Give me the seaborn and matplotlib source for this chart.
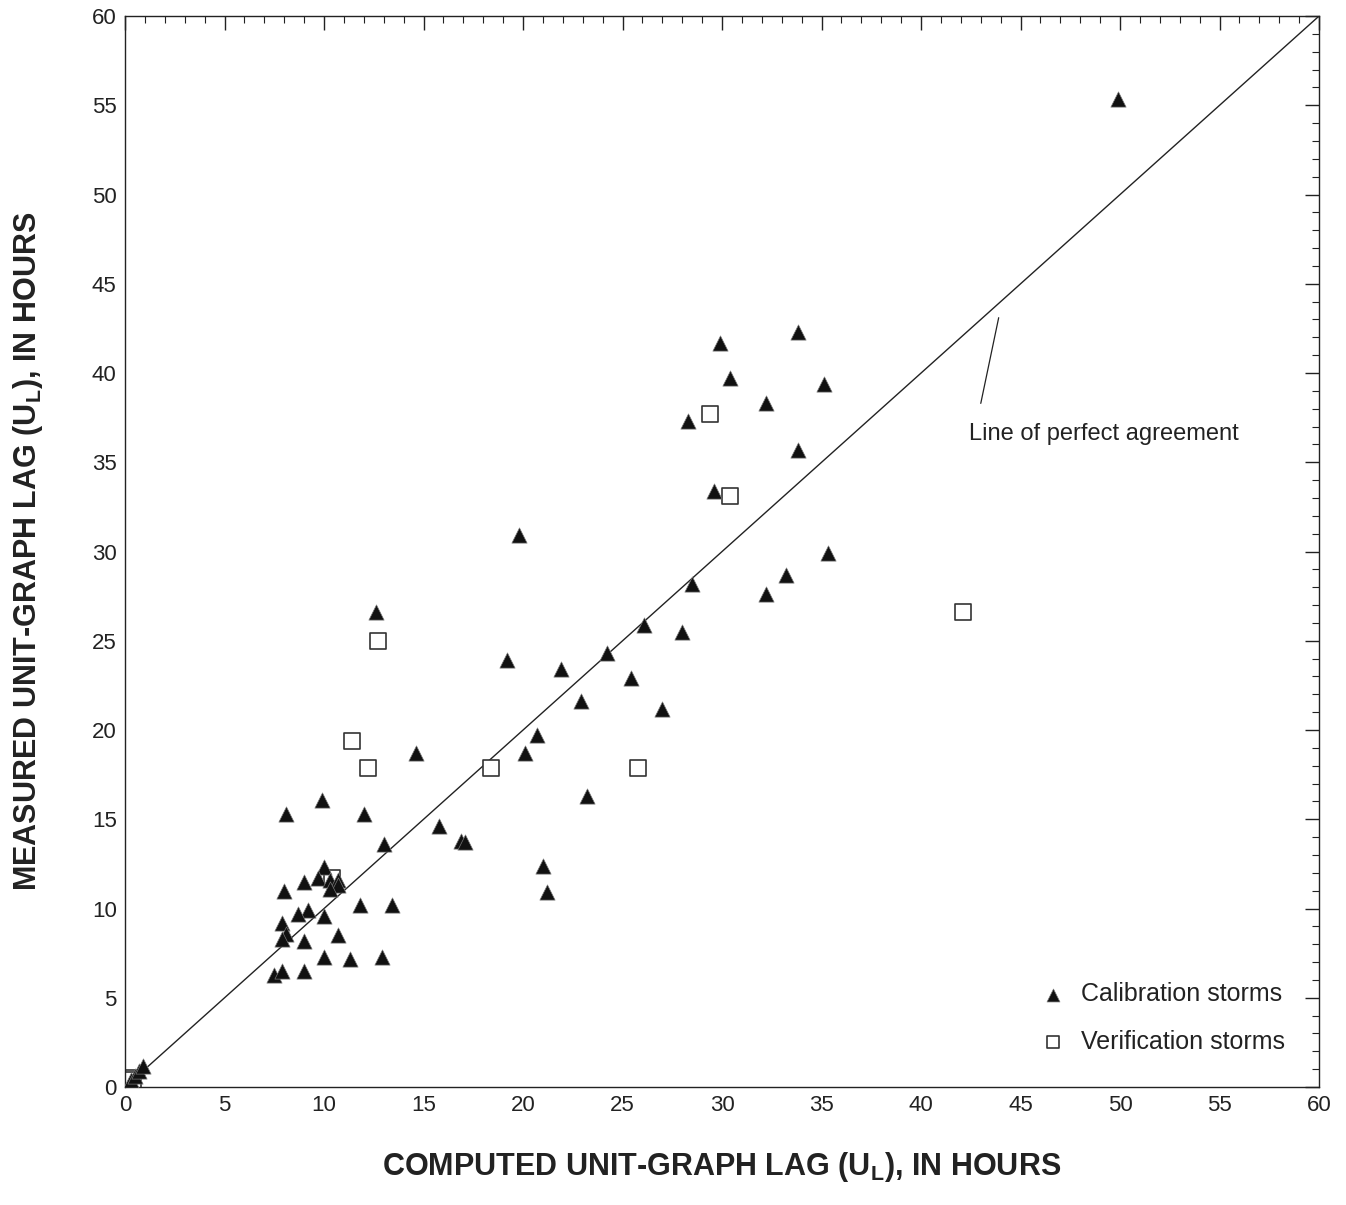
import numpy as np
import pandas as pd
import matplotlib
matplotlib.use("Agg")
import matplotlib.pyplot as plt
from matplotlib.ticker import MultipleLocator
import seaborn as sns

# ---------------------------------------------------------------
# Donnees (heures)
# ---------------------------------------------------------------
calib_x = [49.9, 33.8, 29.9, 30.4, 35.1, 32.2, 28.3, 33.8, 29.6, 35.3,
           19.8, 33.2, 28.5, 32.2, 12.6, 26.1, 28.0, 24.2, 19.2, 21.9,
           25.4, 22.9, 27.0, 20.7, 20.1, 14.6, 23.2, 15.8, 16.9, 17.1,
           21.0, 21.2,
           9.9, 8.1, 12.0, 13.0, 10.0, 9.7, 10.3, 10.7, 10.7, 9.0,
           10.3, 8.0, 11.8, 13.4, 9.2, 8.7, 10.0, 7.9, 10.7, 8.1,
           7.9, 9.0, 10.0, 11.3, 12.9, 7.5, 7.9, 9.0,
           0.3, 0.5, 0.7, 0.9]
calib_y = [55.35, 42.3, 41.7, 39.7, 39.4, 38.3, 37.3, 35.7, 33.4, 29.9,
           30.9, 28.7, 28.2, 27.6, 26.6, 25.9, 25.5, 24.3, 23.9, 23.4,
           22.9, 21.6, 21.2, 19.7, 18.7, 18.7, 16.3, 14.6, 13.8, 13.7,
           12.4, 10.9,
           16.1, 15.3, 15.3, 13.6, 12.3, 11.7, 11.6, 11.6, 11.3, 11.5,
           11.1, 11.0, 10.2, 10.2, 9.9, 9.7, 9.6, 9.2, 8.5, 8.6,
           8.3, 8.2, 7.3, 7.2, 7.3, 6.3, 6.5, 6.5,
           0.4, 0.6, 0.9, 1.2]

verif_x = [29.4, 30.4, 42.1, 12.7, 11.4, 12.2, 18.4, 25.8, 10.4, 0.2, 0.4]
verif_y = [37.7, 33.1, 26.6, 25.0, 19.4, 17.9, 17.9, 17.9, 11.7, 0.5, 0.4]

axis_max = 60
line_label = "Line of perfect agreement"

df_cal = pd.DataFrame({"x": calib_x, "y": calib_y})
df_ver = pd.DataFrame({"x": verif_x, "y": verif_y})

# ---------------------------------------------------------------
# Style
# ---------------------------------------------------------------
sns.set_style("white")
plt.rcParams["font.family"] = ["Liberation Sans", "DejaVu Sans"]
plt.rcParams["mathtext.fontset"] = "custom"
plt.rcParams["mathtext.rm"] = "Liberation Sans:bold"
plt.rcParams["mathtext.it"] = "Liberation Sans:bold"
plt.rcParams["mathtext.bf"] = "Liberation Sans:bold"

fig = plt.figure(figsize=(13.46, 12.05), dpi=100)
ax = fig.add_axes([0.0929, 0.0979, 0.8871, 0.8888])

# ligne 1:1
ax.plot([0, axis_max], [0, axis_max], color="#222222", lw=1.0, zorder=1)

sns.scatterplot(data=df_ver, x="x", y="y", marker="s", s=120,
                facecolor="white", edgecolor="#333333", linewidth=1.2,
                ax=ax, zorder=2, label="Verification storms")
sns.scatterplot(data=df_cal, x="x", y="y", marker="^", s=120,
                color="#111111", edgecolor="#777777", linewidth=0.5,
                ax=ax, zorder=3, label="Calibration storms")

# annotation
ax.plot([43.0, 43.9], [38.3, 43.1], color="#222222", lw=0.9)
ax.text(42.4, 36.6, line_label, fontsize=17, va="center", ha="left",
        color="#222222")

# axes
ax.set_xlim(0, axis_max)
ax.set_ylim(0, axis_max)
ax.xaxis.set_major_locator(MultipleLocator(5))
ax.yaxis.set_major_locator(MultipleLocator(5))
ax.xaxis.set_minor_locator(MultipleLocator(1))
ax.yaxis.set_minor_locator(MultipleLocator(1))
ax.tick_params(which="both", direction="in", top=True, right=True,
               color="#222222")
ax.tick_params(which="major", length=10, width=1.0, labelsize=16,
               labelcolor="#222222", pad=6)
ax.tick_params(which="minor", length=5, width=0.8)
for sp in ax.spines.values():
    sp.set_color("#222222")
    sp.set_linewidth(1.0)

ax.set_xlabel(r"COMPUTED UNIT-GRAPH LAG (U$_\mathrm{L}$), IN HOURS",
              fontsize=22, fontweight="bold", labelpad=24, color="#222222")
ax.set_ylabel(r"MEASURED UNIT-GRAPH LAG (U$_\mathrm{L}$), IN HOURS",
              fontsize=22, fontweight="bold", labelpad=34, color="#222222")

# legende
handles, labels = ax.get_legend_handles_labels()
order = [labels.index("Calibration storms"), labels.index("Verification storms")]
leg = ax.legend([handles[i] for i in order], [labels[i] for i in order],
                loc="lower right", frameon=False, fontsize=18,
                handlelength=1.0, handletextpad=0.6, labelspacing=0.95,
                markerscale=0.85, bbox_to_anchor=(0.99, 0.01))
for t in leg.get_texts():
    t.set_color("#222222")

fig.savefig("out.png", dpi=100)
